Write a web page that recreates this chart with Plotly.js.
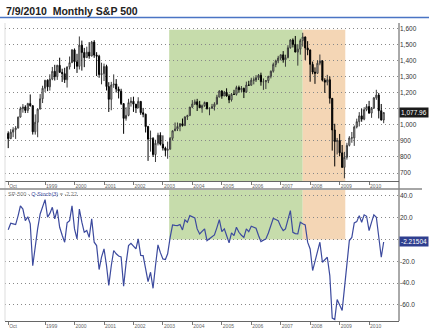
<!DOCTYPE html>
<html>
<head>
<meta charset="utf-8">
<script src="https://cdn.plot.ly/plotly-3.0.1.min.js"></script>
<style>html,body{margin:0;padding:0;background:#fff;}#chart{width:432px;height:329px;}</style>
</head>
<body>
<div id="chart"></div>
<script>
// ---- DATA (monthly S&P 500, Oct 1997 - Jul 2010) ----
var startYear = 1997, startMonth = 10, monthCount = 154;

var openVals = [947.3,914.6,955.4,
970.4,980.3,1049.3,1101.8,1111.8,1090.8,1133.8,1120.7,957.3,1017.0,1098.7,1163.6,
1229.2,1279.6,1238.3,1286.4,1335.2,1301.8,1372.7,1328.7,1320.4,1282.7,1362.9,1389.0,
1469.3,1394.5,1366.4,1498.6,1452.4,1420.6,1454.6,1430.8,1517.7,1436.5,1429.4,1315.2,
1320.3,1366.0,1239.9,1160.3,1249.5,1255.8,1224.4,1211.2,1133.6,1040.9,1059.8,1139.5,
1148.1,1130.2,1106.7,1147.4,1076.9,1067.1,989.8,911.6,916.1,815.3,885.8,936.3,
879.8,855.7,841.2,848.2,916.9,963.6,974.5,990.3,1008.0,996.0,1050.7,1058.2,
1111.9,1131.1,1144.9,1126.2,1107.3,1120.7,1140.8,1101.7,1104.2,1114.6,1130.2,1173.8,
1211.9,1181.3,1203.6,1180.6,1156.9,1191.5,1191.3,1234.2,1220.3,1228.8,1207.0,1249.5,
1248.3,1280.1,1280.7,1294.9,1310.6,1270.1,1270.2,1276.7,1303.8,1335.9,1377.9,1400.6,
1418.3,1438.2,1406.8,1420.9,1482.4,1530.6,1503.4,1455.3,1473.9,1527.0,1549.4,1481.1,
1468.4,1378.6,1330.6,1322.7,1385.6,1400.4,1280.0,1267.4,1282.8,1166.4,968.8,896.2,
903.3,825.9,735.1,797.9,872.8,919.1,919.3,987.5,1020.6,1057.1,1036.2,1095.6,
1115.1,1073.9,1104.5,1169.4,1186.7,1089.4,1030.7];

var highVals = [960.3,973.9,986.2,
992.7,1051.9,1113.9,1130.5,1123.0,1138.5,1190.6,1121.9,1066.1,1103.8,1192.9,1244.9,
1280.1,1284.6,1316.6,1362.4,1375.9,1375.7,1420.3,1351.5,1357.3,1364.4,1427.7,1473.3,
1478.0,1444.6,1552.9,1527.2,1481.5,1488.9,1517.3,1525.2,1530.1,1454.8,1438.5,1389.1,
1383.4,1376.4,1267.4,1269.3,1316.0,1286.6,1239.8,1226.3,1133.6,1110.6,1163.4,1173.6,
1176.6,1130.2,1173.0,1147.8,1106.6,1070.7,994.5,965.0,924.0,907.4,951.6,954.3,
935.1,864.6,895.9,924.2,965.4,1015.3,1015.4,1011.0,1040.3,1053.8,1063.7,1112.6,
1155.4,1158.9,1163.2,1150.6,1127.7,1146.3,1140.8,1109.7,1131.5,1142.1,1188.5,1217.3,
1217.8,1212.4,1229.1,1191.9,1199.6,1219.6,1245.2,1245.9,1243.1,1233.3,1270.6,1275.8,
1294.9,1297.6,1310.9,1318.2,1326.7,1290.7,1280.4,1306.7,1340.3,1389.5,1407.9,1431.8,
1441.6,1461.6,1438.9,1498.0,1535.6,1540.6,1555.9,1503.9,1538.7,1576.1,1552.8,1523.6,
1471.8,1396.0,1359.7,1404.0,1440.2,1404.1,1292.2,1313.2,1303.0,1167.0,1007.5,918.9,
943.9,875.0,832.0,888.7,930.2,956.2,996.7,1039.5,1080.2,1101.4,1111.1,1130.4,
1150.5,1112.4,1174.9,1219.8,1200.0,1131.2,1078.2];

var lowVals = [855.3,912.0,923.8,
912.8,979.8,1046.7,1076.7,1074.4,1074.8,1114.3,939.9,939.7,923.3,1098.7,1136.9,
1205.5,1211.5,1214.9,1279.6,1277.6,1281.4,1325.3,1268.7,1262.4,1233.7,1346.6,1387.4,
1350.1,1325.1,1346.6,1339.4,1361.1,1420.6,1413.9,1428.3,1419.4,1305.8,1294.9,1254.1,
1274.6,1215.4,1081.2,1091.9,1232.0,1203.0,1165.5,1124.9,944.8,1026.8,1054.3,1114.9,
1081.7,1074.4,1106.7,1063.5,1048.0,952.9,775.7,833.4,800.2,768.6,872.1,871.8,
840.3,806.3,788.9,847.9,902.8,963.4,962.1,960.8,990.4,996.0,1031.2,1058.2,
1105.1,1124.4,1087.2,1107.2,1076.3,1113.3,1096.8,1060.7,1101.3,1090.2,1127.6,1173.8,
1163.8,1180.1,1176.9,1136.2,1146.2,1188.3,1183.6,1201.1,1205.4,1168.2,1201.1,1246.6,
1245.7,1253.6,1268.4,1280.7,1245.3,1219.3,1224.5,1261.3,1290.9,1327.1,1360.9,1385.9,
1403.9,1389.1,1363.9,1416.4,1476.7,1484.2,1454.3,1370.6,1439.3,1489.6,1406.1,1435.7,
1270.1,1316.8,1256.9,1321.0,1373.1,1272.0,1200.4,1247.5,1133.5,839.8,741.0,815.7,
804.5,734.5,666.8,783.3,866.1,888.9,869.3,978.5,991.0,1020.2,1029.4,1085.9,
1071.6,1044.5,1101.0,1157.0,1040.8,1028.3,1010.9];

var closeVals = [914.6,955.4,970.4,
980.3,1049.3,1101.8,1111.8,1090.8,1133.8,1120.7,957.3,1017.0,1098.7,1163.6,1229.2,
1279.6,1238.3,1286.4,1335.2,1301.8,1372.7,1328.7,1320.4,1282.7,1362.9,1389.0,1469.3,
1394.5,1366.4,1498.6,1452.4,1420.6,1454.6,1430.8,1517.7,1436.5,1429.4,1315.2,1320.3,
1366.0,1239.9,1160.3,1249.5,1255.8,1224.4,1211.2,1133.6,1040.9,1059.8,1139.5,1148.1,
1130.2,1106.7,1147.4,1076.9,1067.1,989.8,911.6,916.1,815.3,885.8,936.3,879.8,
855.7,841.2,848.2,916.9,963.6,974.5,990.3,1008.0,996.0,1050.7,1058.2,1111.9,
1131.1,1144.9,1126.2,1107.3,1120.7,1140.8,1101.7,1104.2,1114.6,1130.2,1173.8,1211.9,
1181.3,1203.6,1180.6,1156.9,1191.5,1191.3,1234.2,1220.3,1228.8,1207.0,1249.5,1248.3,
1280.1,1280.7,1294.9,1310.6,1270.1,1270.2,1276.7,1303.8,1335.9,1377.9,1400.6,1418.3,
1438.2,1406.8,1420.9,1482.4,1530.6,1503.4,1455.3,1473.9,1527.0,1549.4,1481.1,1468.4,
1378.6,1330.6,1322.7,1385.6,1400.4,1280.0,1267.4,1282.8,1166.4,968.8,896.2,903.3,
825.9,735.1,797.9,872.8,919.1,919.3,987.5,1020.6,1057.1,1036.2,1095.6,1115.1,
1073.9,1104.5,1169.4,1186.7,1089.4,1030.7,1077.96];

var qstochVals = [9,15,14.4,13.8,22,31,28,17.4,21,14.4,
-24,-6,10,23.5,31,36.7,20.5,24,29.6,19,
27.5,11.3,4,-2.4,15.3,17.4,31,9.8,0.6,28,
16,6.7,8.3,2,19,-2.4,-5.5,-27.5,-16,-8.6,
-24,-42,-24,-10,-13,-15,-16,-42.8,-22,-5.5,
-3.4,-6,-8.6,0.6,-14.5,-14.7,-26,-38.5,-30,-44.7,
-24,-4.9,-12,-17.7,-18.3,-13,2,13.5,13,12.8,
13.8,8.9,18,15.9,22,21,19.9,9.8,5.2,7.5,
9.8,-0.9,1,2.5,4.3,11,18.3,7.3,9.8,3.7,
-3,6.1,3.7,11.3,6.7,4,2,9.8,7.3,12.2,
11,10.4,3.7,-1.8,-0.5,0.6,6,12,19.5,18.5,
17.4,12,8.3,9.8,18,26.6,6.7,5.5,5.2,15.9,
14.5,13.5,-2.4,-8.6,-28.4,-19.3,-10,-2.4,-20.8,-18,
-16.2,-33,-72,-73.4,-55,-60,-65,-45,-23.9,-0.9,
2,15.3,16.5,22,15.9,22.7,21.4,8.3,16,22.7,
20.5,2,-16.2,-2.2];

var xTickVals = ['1997-10-01','1999-01-01','2000-01-01','2001-01-01','2002-01-01','2003-01-01','2004-01-01','2005-01-01','2006-01-01','2007-01-01','2008-01-01','2009-01-01','2010-01-01'];
var xTickText = ['Oct','1999','2000','2001','2002','2003','2004','2005','2006','2007','2008','2009','2010'];
// 1,100 and 0.0 sit under the last-value boxes in the reference, so their labels are hidden there
var priceTickVals = [700,800,900,1000,1100,1200,1300,1400,1500,1600];
var priceTickText = ['700','800','900','1,000','','1,200','1,300','1,400','1,500','1,600'];
var stochTickVals = [-60,-40,-20,0,20,40];
var stochTickText = ['-60.0','-40.0','-20.0','','20.0','40.0'];

var bullStart = '2003-03-20', bullEnd = '2007-10-01', bearEnd = '2009-03-12';
var lastPriceText = '1,077.96', lastStochText = '-2.21504';
var titleText = '7/9/2010\u00a0 Monthly S&amp;P 500';

// ---- build dates ----
var months = [];
for (var i = 0; i < monthCount; i++) {
  var m = startMonth - 1 + i;
  var yy = startYear + Math.floor(m / 12);
  var mm = (m % 12) + 1;
  months.push(yy + '-' + (mm < 10 ? '0' : '') + mm + '-01');
}

var W = 432, H = 329;
function px(x) { return x / W; }
function py(y) { return 1 - y / H; }
var FONT = 'Liberation Sans, Arial, sans-serif';

var traces = [
  {
    type: 'candlestick', x: months, open: openVals, high: highVals, low: lowVals, close: closeVals,
    xaxis: 'x', yaxis: 'y',
    increasing: {line: {color: '#3a3a3a', width: 1}, fillcolor: 'rgba(255,255,255,0.55)'},
    decreasing: {line: {color: '#000000', width: 1}, fillcolor: '#000000'},
    whiskerwidth: 0, hoverinfo: 'skip', showlegend: false
  },
  {
    type: 'scatter', mode: 'lines', x: months, y: qstochVals,
    xaxis: 'x2', yaxis: 'y2',
    line: {color: '#3c4a9e', width: 1.2}, hoverinfo: 'skip', showlegend: false
  }
];

var xRange = ['1997-08-22', '2011-01-07'];
var xCommon = {
  type: 'date', domain: [px(5), px(399)], range: xRange,
  tickmode: 'array', tickvals: xTickVals, ticktext: xTickText,
  ticks: 'outside', ticklen: 3, tickwidth: 1, tickcolor: '#777',
  ticklabelposition: 'outside right',
  tickfont: {family: FONT, size: 5, color: '#666'},
  showgrid: false, showline: true, linecolor: '#666', linewidth: 1,
  zeroline: false, fixedrange: true
};

var layout = {
  width: W, height: H,
  margin: {l: 0, r: 0, t: 0, b: 0, pad: 0},
  paper_bgcolor: '#ffffff', plot_bgcolor: 'rgba(0,0,0,0)',
  showlegend: false,
  xaxis: Object.assign({}, xCommon, {anchor: 'y', rangeslider: {visible: false}}),
  xaxis2: Object.assign({}, xCommon, {anchor: 'y2', matches: 'x'}),
  yaxis: {
    domain: [py(181), py(23)], range: [650, 1637], side: 'right', anchor: 'x',
    tickmode: 'array', tickvals: priceTickVals, ticktext: priceTickText,
    tickfont: {family: FONT, size: 6.5, color: '#333'},
    showgrid: true, gridcolor: '#888888', griddash: '1px,3px', gridwidth: 1,
    zeroline: false, showline: false, ticks: '', fixedrange: true
  },
  yaxis2: {
    domain: [py(321), py(190)], range: [-74.7, 45.5], side: 'right', anchor: 'x2',
    tickmode: 'array', tickvals: stochTickVals, ticktext: stochTickText,
    tickfont: {family: FONT, size: 6.5, color: '#333'},
    showgrid: true, gridcolor: '#888888', griddash: '1px,3px', gridwidth: 1,
    zeroline: false, showline: false, ticks: '', fixedrange: true
  },
  shapes: [
    {type: 'rect', xref: 'x', yref: 'y', x0: bullStart, x1: bullEnd, y0: 650, y1: 1595, fillcolor: '#c6dcab', line: {width: 0}, layer: 'below'},
    {type: 'rect', xref: 'x', yref: 'y', x0: bullEnd, x1: bearEnd, y0: 650, y1: 1595, fillcolor: '#f4d6b5', line: {width: 0}, layer: 'below'},
    {type: 'rect', xref: 'x2', yref: 'y2', x0: bullStart, x1: bullEnd, y0: 0, y1: 45.5, fillcolor: '#c6dcab', line: {width: 0}, layer: 'below'},
    {type: 'rect', xref: 'x2', yref: 'y2', x0: bullEnd, x1: bearEnd, y0: 0, y1: 45.5, fillcolor: '#f4d6b5', line: {width: 0}, layer: 'below'},
    {type: 'line', xref: 'paper', yref: 'paper', x0: 0, x1: px(429), y0: py(17.5), y1: py(17.5), line: {color: '#4a74c4', width: 1.5}},
    {type: 'line', xref: 'paper', yref: 'paper', x0: px(399), x1: px(399), y0: py(23), y1: py(321), line: {color: '#555', width: 1}},
    {type: 'line', xref: 'paper', yref: 'paper', x0: px(5), x1: px(5), y0: py(23), y1: py(321), line: {color: '#dddddd', width: 1}},
    {type: 'line', xref: 'paper', yref: 'paper', x0: 0, x1: px(422), y0: py(189), y1: py(189), line: {color: '#888', width: 1.5}}
  ],
  annotations: [
    {xref: 'paper', yref: 'paper', x: px(4), y: py(11), xanchor: 'left', yanchor: 'middle', showarrow: false,
     text: '<b>' + titleText + '</b>', font: {family: FONT, size: 10.5, color: '#222'}},
    {xref: 'paper', yref: 'paper', x: px(6), y: py(194), xanchor: 'left', yanchor: 'middle', showarrow: false,
     text: 'SP-500 - <span style="color:#3c4a9e">Q-Stoch(3)</span> = -2.22', font: {family: FONT, size: 5.5, color: '#777'}},
    {xref: 'paper', yref: 'y', x: px(399), y: closeVals[closeVals.length - 1], xanchor: 'left', yanchor: 'middle', showarrow: false,
     text: lastPriceText, bgcolor: '#1a1a1a', borderpad: 1, font: {family: FONT, size: 6.5, color: '#ffffff'}},
    {xref: 'paper', yref: 'y2', x: px(399), y: qstochVals[qstochVals.length - 1], xanchor: 'left', yanchor: 'middle', showarrow: false,
     text: lastStochText, bgcolor: '#2f3f8f', borderpad: 1, font: {family: FONT, size: 6.5, color: '#ffffff'}}
  ]
};

Plotly.newPlot('chart', traces, layout, {staticPlot: true, displayModeBar: false});
</script>
</body>
</html>
